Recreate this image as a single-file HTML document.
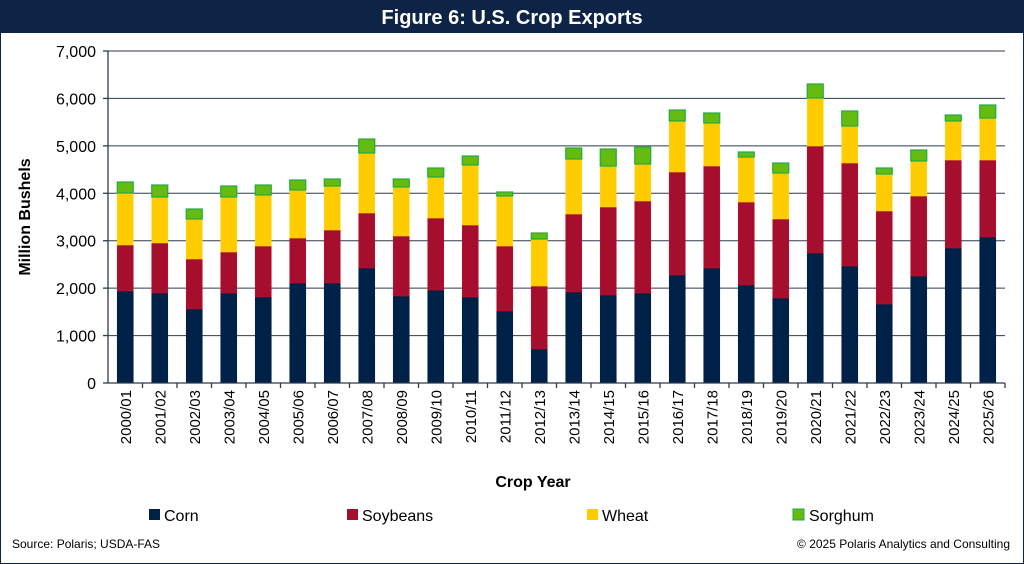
<!DOCTYPE html>
<html><head><meta charset="utf-8"><style>
body{margin:0;background:#fff;}
svg{display:block;font-family:"Liberation Sans",sans-serif;}
</style></head><body>
<svg width="1024" height="564" viewBox="0 0 1024 564">
<rect x="0.5" y="0.5" width="1023" height="563" fill="#fff" stroke="#0d2447"/>
<rect x="0" y="0" width="1024" height="33" fill="#0d2447"/>
<text x="512" y="24" fill="#fff" font-size="20" font-weight="bold" text-anchor="middle">Figure 6: U.S. Crop Exports</text>
<g id="grid" stroke="#2e3b4e" stroke-width="1"></g>
<g id="bars"></g>
<g id="axes" stroke="#2e3b4e" stroke-width="1.3"></g>
<g id="labels" font-size="16" fill="#000"></g>
<text transform="translate(30,217) rotate(-90)" font-size="16" font-weight="bold" text-anchor="middle">Million Bushels</text>
<text x="533" y="487" font-size="16" font-weight="bold" text-anchor="middle">Crop Year</text>
<rect x="149" y="509" width="11" height="11" fill="#002147"/><text x="164" y="521" font-size="16">Corn</text>
<rect x="347" y="509" width="11" height="11" fill="#a50f2d"/><text x="362" y="521" font-size="16">Soybeans</text>
<rect x="587" y="509" width="11" height="11" fill="#ffcc00"/><text x="602" y="521" font-size="16">Wheat</text>
<rect x="793" y="509" width="11" height="11" fill="#66bb11" stroke="#22aa44"/><text x="809" y="521" font-size="16">Sorghum</text>
<text x="12" y="548" font-size="12">Source: Polaris; USDA-FAS</text>
<text x="1010" y="548" font-size="12" text-anchor="end">© 2025 Polaris Analytics and Consulting</text>
<script>
var ns="http://www.w3.org/2000/svg";
function el(p,t,a,txt){var e=document.createElementNS(ns,t);for(var k in a)e.setAttribute(k,a[k]);if(txt)e.textContent=txt;document.getElementById(p).appendChild(e);return e;}
var y0=383,y7=51,x0=108,x1=1005;
for(var i=0;i<=7;i++){var y=y0-(y0-y7)*i/7;
 if(i>0)el("grid","line",{x1:x0,x2:x1,y1:y,y2:y});
 el("axes","line",{x1:x0-5,x2:x0,y1:y,y2:y});
 el("labels","text",{x:96,y:y+6,"text-anchor":"end"},(i*1000).toLocaleString("en-US"));}
el("axes","line",{x1:x0,x2:x0,y1:y7,y2:y0});
el("axes","line",{x1:x0,x2:x1,y1:y0,y2:y0});
var d=[[291,245,193,182],[293,243,197,185],[309,259,219,209],[293,252,197,186],[297,246,195,185],[283,238,190,180],[283,230,186,179],[268,213,153,139],[296,236,187,179],[290,218,177,168],[297,225,165,156],[311,246,196,192],[349,286,239,233],[292,214,159,148],[295,207,166,149],[293,201,164,147],[275,172,121,110],[268,166,123,113],[285,202,157,152],[298,219,173,163],[253,146,98,84],[266,163,126,111],[304,211,174,168],[276,196,161,150],[248,160,121,115],[237,160,118,105]];
var cols=["#002147","#a50f2d","#ffcc00","#66bb11"],str=["#002147","#c0102a","#ffd21a","#22aa44"];
var step=(x1-x0)/26;
for(var j=0;j<26;j++){var cx=x0+step*(j+0.5);var prev=y0;
 for(var k=0;k<4;k++){var t=d[j][k];el("bars","rect",{x:cx-8,y:t,width:16,height:prev-t,fill:cols[k],stroke:str[k],"stroke-width":k==3?1.2:0.6});prev=t;}
 el("axes","line",{x1:x0+step*(j+1),x2:x0+step*(j+1),y1:y0,y2:y0+5});
 var yr=2000+j;var lab=yr+"/"+String((yr+1)%100).padStart(2,"0");
 el("labels","text",{transform:"translate("+(cx+5.5)+",390) rotate(-90)","text-anchor":"end","font-size":"15"},lab);}
</script>
</svg>
</body></html>
